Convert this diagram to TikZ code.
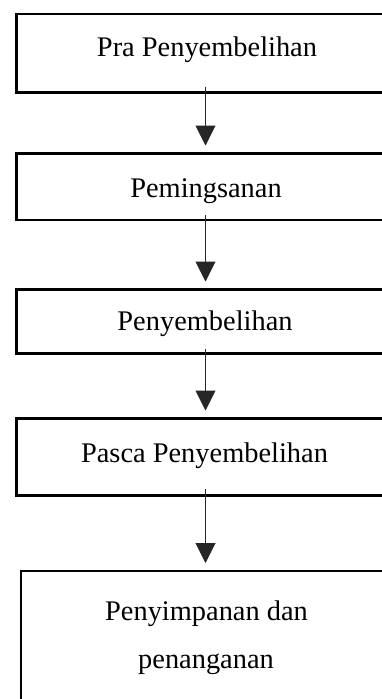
\documentclass[tikz,border=0pt]{standalone}
\usepackage{fontspec}
\setmainfont{Liberation Serif}
\usetikzlibrary{arrows.meta}
\begin{document}
\begin{tikzpicture}[x=1pt,y=-1pt,
  box/.style={draw=black,line width=2.4pt,inner sep=0pt,outer sep=0pt,fill=none},
  lbl/.style={anchor=base,inner sep=0pt,font=\fontsize{28.4}{34}\selectfont},
  flow/.style={draw=black!85,line width=1pt,-{Triangle[width=20pt,length=20pt]},shorten >=8pt}]
\useasboundingbox (0,0) rectangle (382,699);
\clip (0,0) rectangle (382,699);
\fill[white] (0,0) rectangle (382,699);
% boxes
\node[box,minimum width=383.5pt,minimum height=78.5pt] (b1) at (208.25,53.25) {};
\node[box,minimum width=383.5pt,minimum height=66.5pt] (b2) at (208.25,186.75) {};
\node[box,minimum width=383.5pt,minimum height=64pt] (b3) at (208.25,321.5) {};
\node[box,minimum width=383.5pt,minimum height=77pt] (b4) at (208.25,457) {};
\node[box,minimum width=379pt,minimum height=149pt] (b5) at (210.5,645.5) {};
% labels
\node[lbl] (t1) at (207,56) {Pra Penyembelihan};
\node[lbl] (t2) at (206,197) {Pemingsanan};
\node[lbl] (t3) at (205,330) {Penyembelihan};
\node[lbl] (t4) at (204.5,462) {Pasca Penyembelihan};
\node[lbl] (t5) at (206.5,620) {Penyimpanan dan};
\node[lbl] (t6) at (206,668) {penanganan};
% arrows
\draw[flow] ([xshift=-2.75pt,yshift=6pt]b1.south) -- ([xshift=-2.75pt]b2.north);
\draw[flow] ([xshift=-2.75pt,yshift=5pt]b2.south) -- ([xshift=-2.75pt]b3.north);
\draw[flow] ([xshift=-2.75pt,yshift=5pt]b3.south) -- ([xshift=-2.75pt]b4.north);
\draw[flow] ([xshift=-2.75pt,yshift=7pt]b4.south) -- ([xshift=-5pt]b5.north);
\end{tikzpicture}
\end{document}
